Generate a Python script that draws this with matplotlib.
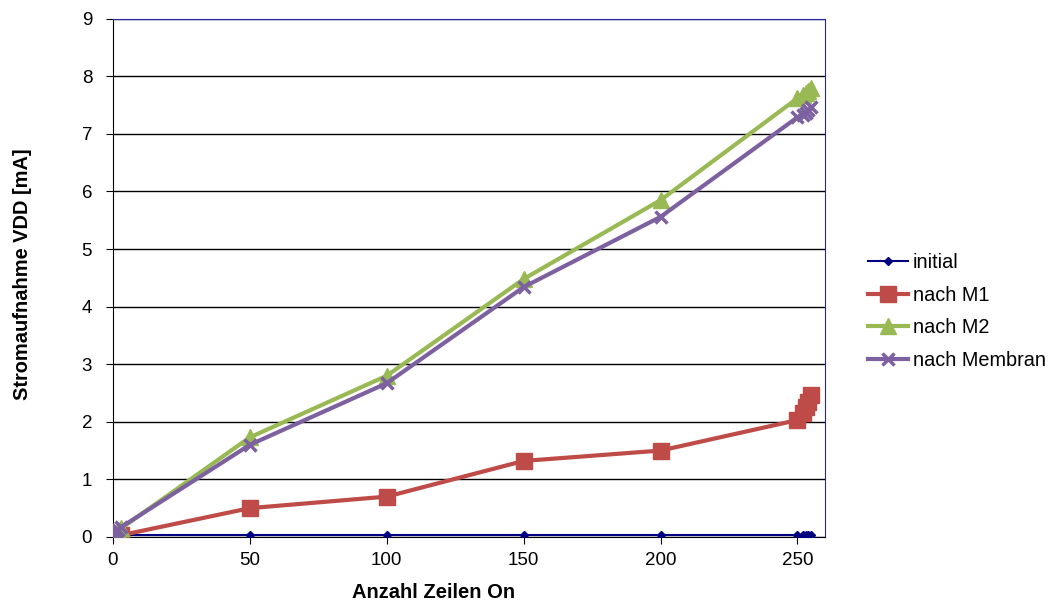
import matplotlib
matplotlib.use("Agg")
import matplotlib.pyplot as plt
from matplotlib.ticker import MultipleLocator

plt.rcParams['font.family'] = ['Liberation Sans', 'DejaVu Sans']

# Number of rows switched on
zeilen = [0, 1, 2, 3, 50, 100, 150, 200, 250, 252, 253, 254, 255]

# Supply current VDD [mA] per process stage
initial = [0.04, 0.04, 0.04, 0.04, 0.04, 0.04, 0.04, 0.04, 0.04, 0.04, 0.04, 0.04, 0.04]
nach_m1 = [0.0, 0.01, 0.02, 0.03, 0.5, 0.7, 1.32, 1.5, 2.03, 2.15, 2.25, 2.35, 2.47]
nach_m2 = [0.05, 0.07, 0.1, 0.15, 1.73, 2.8, 4.48, 5.85, 7.62, 7.67, 7.71, 7.75, 7.8]
nach_membran = [0.05, 0.08, 0.12, 0.17, 1.6, 2.67, 4.34, 5.56, 7.29, 7.33, 7.37, 7.42, 7.46]

fig = plt.figure(figsize=(10.5, 6.06), dpi=100)
ax = fig.add_axes([0.1076, 0.114, 0.678, 0.855])

ax.plot(zeilen, initial, color='#000080', lw=1.5, marker='D', ms=4.5, label='initial', zorder=3)
ax.plot(zeilen, nach_m1, color='#BE4B48', lw=3, marker='s', ms=11, label='nach M1', zorder=4)
ax.plot(zeilen, nach_m2, color='#98B954', lw=3, marker='^', ms=11, label='nach M2', zorder=5)
ax.plot(zeilen, nach_membran, color='#7D60A0', lw=3, marker='x', ms=9, mew=2.5, label='nach Membran', zorder=6)

ax.set_xlim(0, 260)
ax.set_ylim(0, 9)
ax.xaxis.set_major_locator(MultipleLocator(50))
ax.yaxis.set_major_locator(MultipleLocator(1))
ax.yaxis.grid(True, color='black', lw=1)
ax.set_axisbelow(True)

for side in ('top', 'right'):
    ax.spines[side].set_color('#2828A8')
for side in ('left', 'bottom'):
    ax.spines[side].set_color('black')

ax.tick_params(axis='both', labelsize=13.5, direction='out', length=5, color='black')
ax.tick_params(axis='x', pad=6)
ax.tick_params(axis='y', pad=10)

ax.set_xlabel('Anzahl Zeilen On', fontsize=14.5, fontweight='bold', labelpad=10, x=0.451)
ax.set_ylabel('Stromaufnahme VDD [mA]', fontsize=14.4, fontweight='bold', labelpad=36, y=0.508)

fig.legend(loc='center left', bbox_to_anchor=(0.81, 0.486), frameon=False,
           fontsize=14.3, handlelength=2.0, handletextpad=0.25, labelspacing=0.7)

fig.savefig('out.png', dpi=100)
